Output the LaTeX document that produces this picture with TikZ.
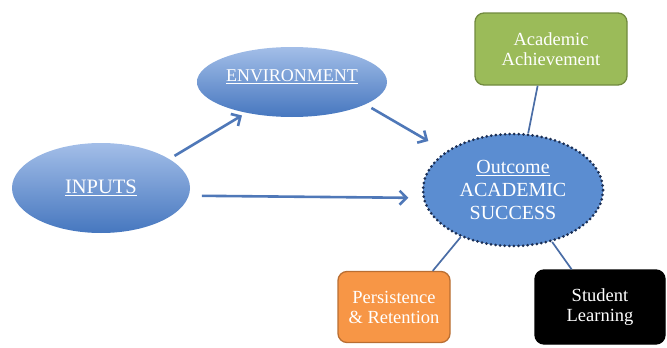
\documentclass[tikz,border=0pt]{standalone}
\usepackage{fontspec}
\setmainfont{Liberation Serif}
\usepackage{tikz}
\usetikzlibrary{shapes.geometric,arrows.meta}
\definecolor{ovaltop}{HTML}{A3BEE8}
\definecolor{ovalbot}{HTML}{4677BF}
\definecolor{goalfill}{HTML}{5B8DD1}
\definecolor{navy}{HTML}{1B2F55}
\definecolor{link}{HTML}{4F78B8}
\definecolor{tiecol}{HTML}{4A6DA6}
\definecolor{achfill}{HTML}{9BBB59}
\definecolor{achline}{HTML}{718A3F}
\definecolor{perfill}{HTML}{F79646}
\definecolor{perline}{HTML}{B96E32}
\tikzset{
  oval/.style={ellipse, inner sep=0pt, top color=ovaltop, bottom color=ovalbot, text=white},
  goal/.style={ellipse, inner sep=0pt, fill=goalfill, draw=navy, line width=3pt,
    dash pattern=on 0pt off 4.6pt, line cap=round, text=white, align=center,
    font=\fontsize{20}{23}\selectfont},
  card/.style={rounded corners=9pt, inner sep=0pt, line width=1.3pt, text=white,
    align=center, font=\fontsize{18.5}{20}\selectfont},
  arr/.style={draw=link, line width=2.6pt, -{Straight Barb[length=7pt,width=14pt]}},
  tie/.style={draw=tiecol, line width=1.7pt},
}
\begin{document}
\begin{tikzpicture}[x=1pt,y=-1pt]
  \useasboundingbox (0,0) rectangle (667,348);
  % ovals
  \node[oval, minimum width=178pt, minimum height=90pt, font=\fontsize{20.5}{23}\selectfont]
    (inputs) at (101,188) {\underline{INPUTS}};
  \node[oval, minimum width=190pt, minimum height=70pt, font=\fontsize{18}{20}\selectfont]
    (env) at (292,82) {\raisebox{12pt}{\underline{ENVIRONMENT}}};
  \node[goal, minimum width=180pt, minimum height=112pt]
    (outcome) at (513,190) {\underline{Outcome}\\ACADEMIC\\SUCCESS};
  % outcome boxes
  \node[card, fill=achfill, draw=achline, minimum width=152pt, minimum height=72pt]
    (ach) at (551,49) {Academic\\Achievement};
  \node[card, fill=perfill, draw=perline, minimum width=112pt, minimum height=71pt]
    (pers) at (394,307) {Persistence\\\&~Retention};
  \node[card, fill=black, draw=black, minimum width=130pt, minimum height=74pt]
    (learn) at (600,307) {Student\\Learning};
  % arrows
  \draw[arr, shorten <=6pt, shorten >=5pt] (inputs.23) -- (env.214);
  \draw[arr, shorten <=7pt, shorten >=20pt] (env.-17) -- (outcome.150);
  \draw[arr, shorten <=13pt, shorten >=14pt] (inputs.-5) -- (outcome.185);
  % ties
  \draw[tie] (outcome.75) -- (ach.250);
  \draw[tie] (outcome.222) -- (pers.43);
  \draw[tie] (outcome.-53) -- (learn.127);
\end{tikzpicture}
\end{document}
